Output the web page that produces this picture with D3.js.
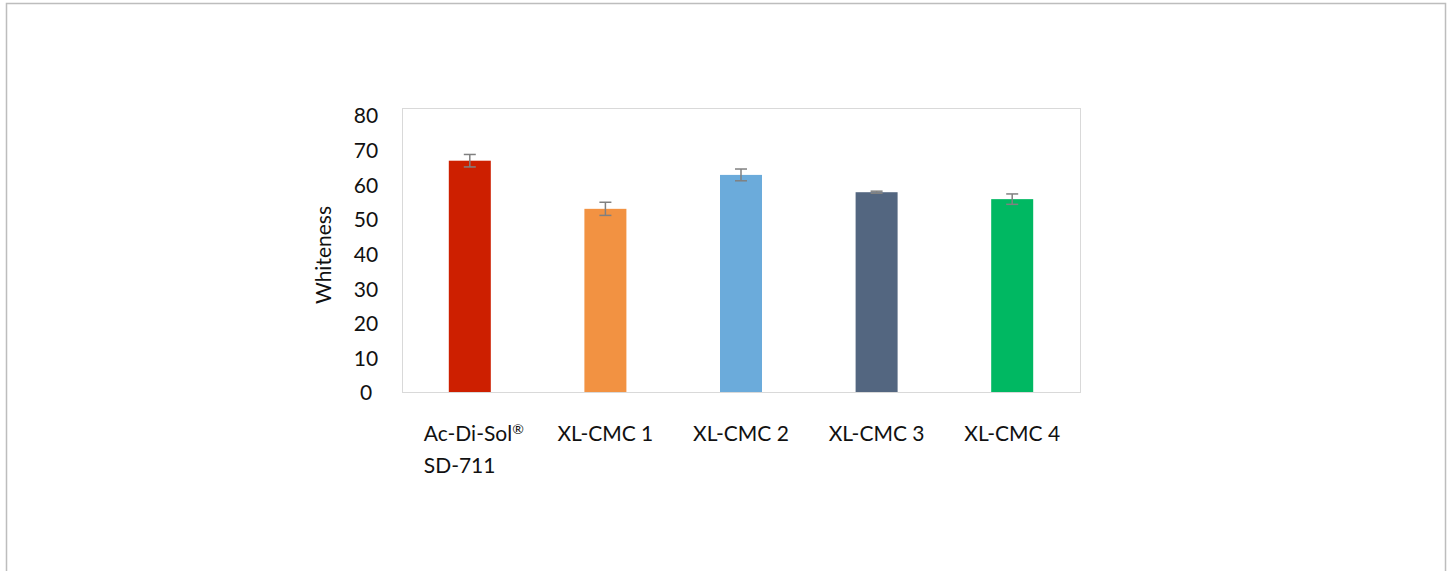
<!DOCTYPE html>
<html><head><meta charset="utf-8">
<script src="https://cdn.jsdelivr.net/npm/d3@7"></script>
<style>html,body{margin:0;padding:0;background:#fff}svg{display:block}</style>
</head><body>
<script>
const categories = [["Ac-Di-Sol®","SD-711"],["XL-CMC 1"],["XL-CMC 2"],["XL-CMC 3"],["XL-CMC 4"]];
const values = [66.8, 52.9, 62.7, 57.7, 55.7];
const errors = [1.8, 1.9, 1.7, 0.3, 1.5];
const colors = ["#CD1F00","#F29242","#6BABDB","#536680","#00B862"];
const yTicks = [0,10,20,30,40,50,60,70,80];
const yTitle = "Whiteness";

const W = 1450, H = 571;
const svg = d3.select("body").append("svg").attr("width", W).attr("height", H);
svg.append("rect").attr("x",6.5).attr("y",3.5).attr("width",1439).attr("height",600)
  .attr("fill","#fff").attr("stroke","#bdbdbd").attr("stroke-width",1.5);

const frame = {x0:402, x1:1080, y0:108, y1:392};
const x = d3.scaleBand().domain(d3.range(categories.length)).range([frame.x0, frame.x1]).paddingInner(0).paddingOuter(0);
const y = d3.scaleLinear().domain([0,80]).range([frame.y1, 115]);

svg.append("rect").attr("x",frame.x0+0.5).attr("y",frame.y0+0.5)
  .attr("width",frame.x1-frame.x0).attr("height",frame.y1-frame.y0)
  .attr("fill","none").attr("stroke","#d9d9d9").attr("stroke-width",1);

const font = "Lato, 'Open Sans', sans-serif";
const fs = 21;
const bw = 42;
svg.selectAll(".bar").data(values).enter().append("rect")
  .attr("x",(d,i)=>x(i)+x.bandwidth()/2-bw/2).attr("width",bw)
  .attr("y",d=>y(d)).attr("height",d=>y(0)-y(d)).attr("fill",(d,i)=>colors[i]);

const eg = svg.append("g").attr("stroke","#808080").attr("stroke-width",1.5);
values.forEach((v,i)=>{
  const cx = x(i)+x.bandwidth()/2;
  eg.append("line").attr("x1",cx).attr("x2",cx).attr("y1",y(v+errors[i])).attr("y2",y(v-errors[i]));
  [v+errors[i], v-errors[i]].forEach(e=>{
    eg.append("line").attr("x1",cx-6).attr("x2",cx+6).attr("y1",y(e)).attr("y2",y(e));
  });
});

const yAxis = svg.append("g").attr("transform",`translate(${frame.x0},0)`)
  .call(d3.axisLeft(y).tickValues(yTicks).tickSize(0));
yAxis.select(".domain").remove();
yAxis.selectAll(".tick text").attr("font-family",font).attr("font-size",fs).attr("fill","#111")
  .attr("dy","0.38em").attr("text-anchor","middle").attr("x",-36);

svg.append("text").attr("transform","translate(331,255) rotate(-90)")
  .attr("text-anchor","middle").attr("font-family",font).attr("font-size",fs).attr("fill","#111").text(yTitle);

const xl = svg.append("g");
categories.forEach((lines,i)=>{
  const cx = x(i)+x.bandwidth()/2;
  const gt = xl.append("g");
  let firstW = 0;
  lines.forEach((ln,j)=>{
    const t = gt.append("text").attr("font-family",font).attr("font-size",fs).attr("fill","#111")
      .attr("y",441+j*32);
    if (ln.endsWith("®")) {
      t.append("tspan").text(ln.slice(0,-1));
      t.append("tspan").attr("font-size",14).attr("dy",-7).text("®");
    } else t.text(ln);
    if (j===0) firstW = t.node().getComputedTextLength();
  });
  gt.selectAll("text").attr("x", cx - firstW/2 + (lines.length>1 ? 4 : 0));
});
</script>
</body></html>
